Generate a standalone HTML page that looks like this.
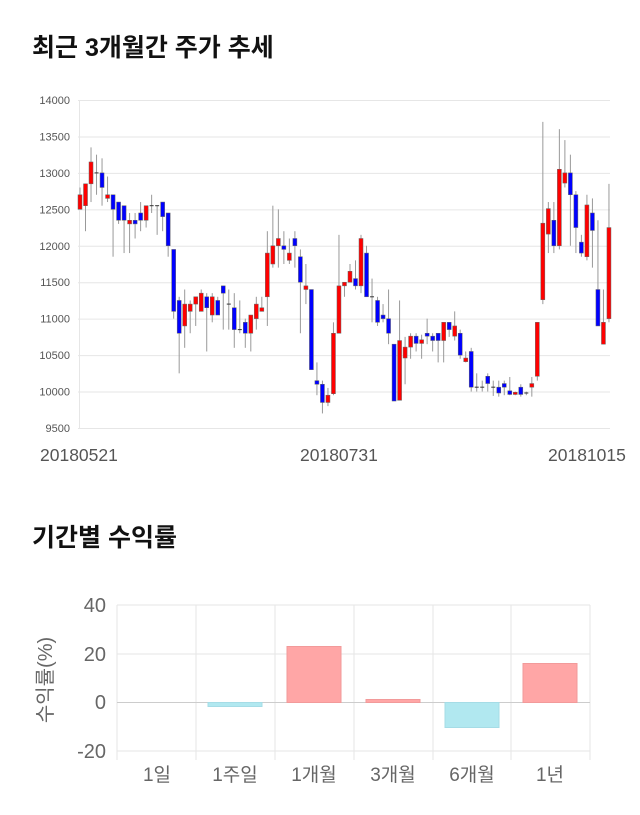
<!DOCTYPE html>
<html><head><meta charset="utf-8"><style>
body{margin:0;background:#fff;width:640px;height:810px;overflow:hidden;font-family:"Liberation Sans","Noto Sans CJK KR",sans-serif}
svg text{font-family:"Liberation Sans","Noto Sans CJK KR",sans-serif}
</style></head><body>
<svg id="s" width="640" height="810" xmlns="http://www.w3.org/2000/svg">
<text x="32" y="56" font-size="25" font-weight="bold" fill="#111">최근 3개월간 주가 추세</text>
<text x="32" y="546" font-size="25" font-weight="bold" fill="#111">기간별 수익률</text>
<g id="top"></g>
<g id="bot">
<g stroke="#e6e6e6" stroke-width="1">
<line x1="117" y1="605" x2="590" y2="605"/><line x1="117" y1="654" x2="590" y2="654"/>
<line x1="117" y1="751" x2="590" y2="751"/>
<line x1="117" y1="605" x2="117" y2="760"/><line x1="196" y1="605" x2="196" y2="760"/>
<line x1="275" y1="605" x2="275" y2="760"/><line x1="354" y1="605" x2="354" y2="760"/>
<line x1="433" y1="605" x2="433" y2="760"/><line x1="511" y1="605" x2="511" y2="760"/>
<line x1="590" y1="605" x2="590" y2="760"/>
</g>
<line x1="117" y1="702.5" x2="590" y2="702.5" stroke="#ccc"/>
<g font-size="20" fill="#666" text-anchor="end">
<text x="106" y="612">40</text><text x="106" y="661">20</text><text x="106" y="709">0</text><text x="106" y="758">-20</text>
</g>
<text transform="translate(52,680) rotate(-90)" font-size="20" fill="#666" text-anchor="middle">수익률(%)</text>
<g font-size="19" fill="#666" text-anchor="middle">
<text x="157" y="781">1일</text><text x="235" y="781">1주일</text><text x="314" y="781">1개월</text>
<text x="393" y="781">3개월</text><text x="472" y="781">6개월</text><text x="550" y="781">1년</text>
</g>
<g stroke-width="1">
<rect x="208" y="702.5" width="54" height="4" fill="#b1e8f0" stroke="#a5dce6"/>
<rect x="287" y="646.5" width="54" height="56" fill="#ffa6a6" stroke="#f29a9a"/>
<rect x="366" y="699.5" width="54" height="3" fill="#ffa6a6" stroke="#f29a9a"/>
<rect x="445" y="702.5" width="54" height="25" fill="#b1e8f0" stroke="#a5dce6"/>
<rect x="523" y="663.5" width="54" height="39" fill="#ffa6a6" stroke="#f29a9a"/>
</g>
</g>
</svg>
<script>
var d=[[12500,12700,12800,12500],[12550,12850,12850,12200],[12850,13150,13350,12600],[13000,13000,13250,12700],[13000,12800,13200,12550],[12650,12700,12950,12600],[12700,12500,12700,11850],[12600,12350,12600,12300],[12550,12350,12550,11900],[12300,12350,12450,11900],[12350,12300,12450,12100],[12450,12350,12600,12200],[12350,12550,12550,12250],[12550,12550,12700,12450],[12550,12550,12550,12150],[12600,12400,12600,12200],[12450,12000,12450,11850],[11950,11100,11950,11000],[11250,10800,11300,10250],[10900,11200,11400,10600],[11100,11200,11250,10800],[11200,11300,11300,10900],[11100,11350,11400,11100],[11300,11150,11350,10550],[11050,11300,11350,10950],[11250,11050,11300,11050],[11450,11350,11450,10850],[11200,11200,11400,10850],[11150,10850,11350,10600],[10850,10850,11250,10800],[10950,10800,11000,10600],[10800,11050,11050,10550],[11000,11200,11300,10850],[11100,11150,11300,11100],[11300,11900,12200,10900],[11750,12000,12550,11700],[12000,12100,12500,11700],[12000,11950,12200,11750],[11800,11900,12100,11750],[12100,12000,12200,11700],[11850,11500,11950,10800],[11400,11450,11750,11200],[11400,10300,11400,10300],[10150,10100,10400,9950],[10100,9850,10150,9700],[9850,9950,10050,9800],
[9970,10800,10950,9950],[10800,11450,12150,10800],[11450,11500,11500,11300],[11500,11650,11750,11500],[11550,11450,11800,11400],[11450,12100,12150,11350],[11900,11300,12000,11300],[11300,11300,11550,10950],[11250,10950,11300,10900],[11050,11000,11200,10950],[11000,10800,11400,10650],[10650,9870,10650,9870],[9880,10700,11250,9880],[10460,10610,10750,10100],[10610,10760,10800,10450],[10760,10660,10800,10550],[10660,10710,10780,10450],[10800,10760,11000,10650],[10760,10700,10800,10550],[10800,10700,10800,10400],[10700,10950,10950,10400],[10950,10850,10950,10750],[10760,10900,11100,10700],[10800,10500,10850,10450],[10410,10460,10550,10400],[10550,10060,10600,10000],[10060,10060,10250,10000],[10060,10060,10150,10000],[10210,10110,10250,10000],[10060,10060,10150,9940],[10060,9980,10150,9930],[10110,10060,10150,9950],[10010,9960,10200,9950],[9960,9990,10000,9950],[10060,9960,10100,9930],[9980,9980,10000,9950],[10060,10110,10200,9930],[10210,10950,10950,10150],[11260,12310,13700,11200],[12160,12510,12600,11900],[12350,12000,12600,11900],[12000,13050,13600,11950],[12860,13000,13450,12800],[13000,12700,13250,12000],[12700,12250,12750,11900],[12050,11900,12150,11850],[11850,12560,12700,11800],[12450,12210,12650,11700],[11400,10900,12350,10900],[10650,10950,11400,10650],[11000,12250,12850,10950]];
function Y(v){return 100+(14000-v)*328/4500;}
var h='<g stroke="#e6e6e6">';
var labs=[14000,13500,13000,12500,12000,11500,11000,10500,10000,9500];
labs.forEach(function(v){h+='<line x1="78" x2="610" y1="'+(Y(v)+.5)+'" y2="'+(Y(v)+.5)+'"/>';});
h+='<line x1="79.5" x2="79.5" y1="100" y2="428"/></g><g font-size="11" fill="#555" text-anchor="end">';
labs.forEach(function(v){h+='<text x="70" y="'+(Y(v)+4)+'">'+v+'</text>';});
h+='</g><g font-size="17.5" fill="#555"><text x="40" y="461">20180521</text><text x="300" y="461">20180731</text><text x="548" y="461">20181015</text></g>';
for(var i=0;i<d.length;i++){var c=d[i],x=80+i*5.51;
h+='<line x1="'+x+'" x2="'+x+'" y1="'+Y(c[2])+'" y2="'+Y(c[3])+'" stroke="#999" stroke-width="1"/>';
var t=Y(Math.max(c[0],c[1])),b=Y(Math.min(c[0],c[1]));
if(b-t<1.2){h+='<line x1="'+(x-2)+'" x2="'+(x+2)+'" y1="'+t+'" y2="'+t+'" stroke="#333" stroke-width="1"/>';}
else h+='<rect x="'+(x-2)+'" y="'+t+'" width="4" height="'+(b-t)+'" fill="'+(c[1]>c[0]?'#f00':'#00f')+'" stroke="#666" stroke-width="0.5"/>';}
document.getElementById('top').innerHTML=h;
</script>
</body></html>
